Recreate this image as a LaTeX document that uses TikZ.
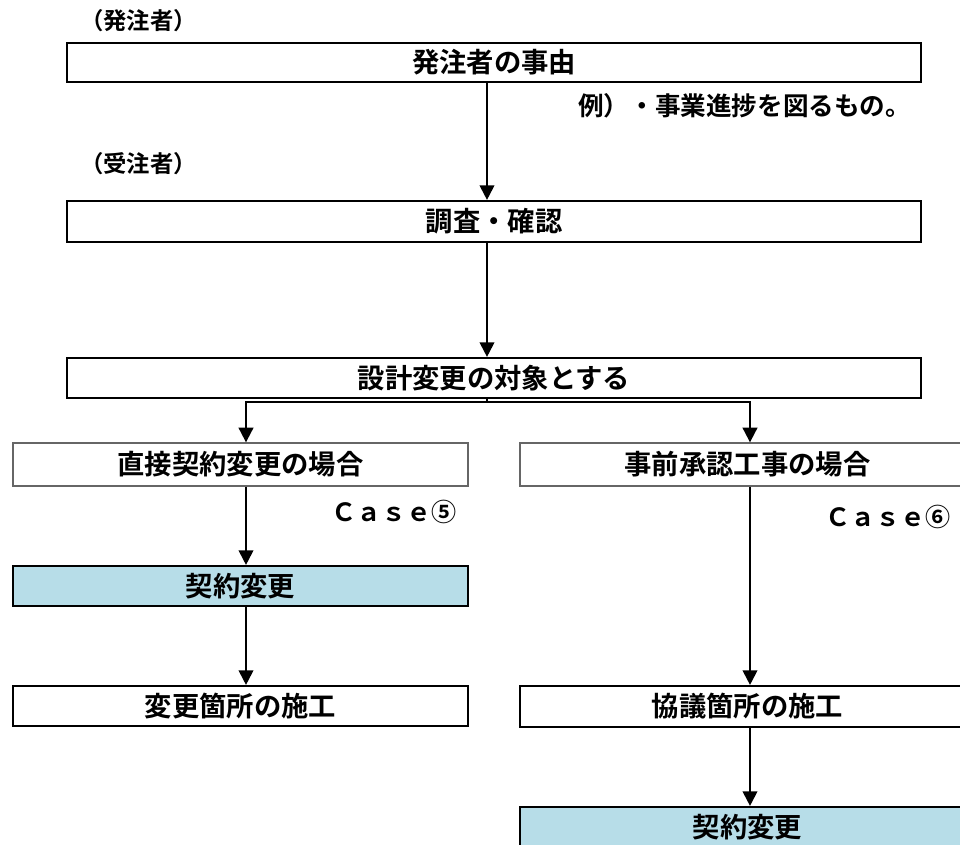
\documentclass[tikz,border=0pt]{standalone}
\usepackage{fontspec}
\setmainfont{Noto Sans CJK JP}[BoldFont={* Bold}]
\usetikzlibrary{arrows.meta}
\definecolor{lblue}{HTML}{B7DDE8}
\tikzset{
  box/.style={draw=black, line width=1.6pt, fill=white, inner sep=0pt, font=\bfseries\fontsize{20.5}{22}\selectfont},
  casebox/.style={draw=black!60, line width=1pt, fill=white, inner sep=0pt, font=\bfseries\fontsize{20.5}{22}\selectfont},
  bluebox/.style={box, fill=lblue},
  lbl/.style={inner sep=0pt, font=\bfseries\fontsize{17.5}{19}\selectfont},
  note/.style={inner sep=0pt, font=\bfseries\fontsize{19.2}{21}\selectfont},
  casel/.style={inner sep=0pt, font=\bfseries\fontsize{18.8}{20}\selectfont},
  arr/.style={line width=1.5pt, -{Triangle[width=11pt,length=11pt]}},
  ln/.style={line width=1.5pt}
}
\begin{document}
\begin{tikzpicture}[x=0.75pt,y=-0.75pt]
\useasboundingbox (0,0) rectangle (960,845);
\clip (0,0) rectangle (960,845);
% column coordinates
\coordinate (mx) at (487,0);
\coordinate (lx) at (246,0);
\coordinate (rx) at (750,0);
% labels
\node[lbl, anchor=west] (lo) at (80,21) {（発注者）};
\node[lbl, anchor=west] (lc) at (80,164) {（受注者）};
% main boxes
\node[box, minimum width=640.5pt, minimum height=29.25pt] (b1) at (494,62.5) {発注者の事由};
\node[note, anchor=west] (ex) at (578,106) {例）・事業進捗を図るもの。};
\node[box, minimum width=640.5pt, minimum height=30.75pt] (b2) at (494,221.5) {調査・確認};
\node[box, minimum width=640.5pt, minimum height=30pt] (b3) at (494,378) {設計変更の対象とする};
% case boxes
\node[casebox, minimum width=341.25pt, minimum height=32.25pt] (cl) at (240.5,464.5) {直接契約変更の場合};
\node[casebox, minimum width=341.25pt, minimum height=32.25pt] (cr) at (747.5,464.5) {事前承認工事の場合};
\node[casel, anchor=west] (c5) at (331,512) {Ｃａｓｅ⑤};
\node[casel, anchor=west] (c6) at (825,517) {Ｃａｓｅ⑥};
% left column
\node[bluebox, minimum width=341.25pt, minimum height=30pt] (kl) at (240.5,586) {契約変更};
\node[box, minimum width=341.25pt, minimum height=30pt] (hl) at (240.5,706) {変更箇所の施工};
% right column
\node[box, minimum width=341.25pt, minimum height=30.75pt] (hr) at (747.5,706.5) {協議箇所の施工};
\node[bluebox, minimum width=341.25pt, minimum height=30pt] (kr) at (747.5,827) {契約変更};
% connectors
\draw[arr] (b1.south -| mx) -- (b2.north -| mx);
\draw[arr] (b2.south -| mx) -- (b3.north -| mx);
\coordinate (split) at (487,402);
\draw[ln] (b3.south -| mx) -- (split);
\draw[arr] (split) -| (cl.north -| lx);
\draw[arr] (split) -| (cr.north -| rx);
\draw[arr] (cl.south -| lx) -- (kl.north -| lx);
\draw[arr] (kl.south -| lx) -- (hl.north -| lx);
\draw[arr] (cr.south -| rx) -- (hr.north -| rx);
\draw[arr] (hr.south -| rx) -- (kr.north -| rx);
\end{tikzpicture}
\end{document}
